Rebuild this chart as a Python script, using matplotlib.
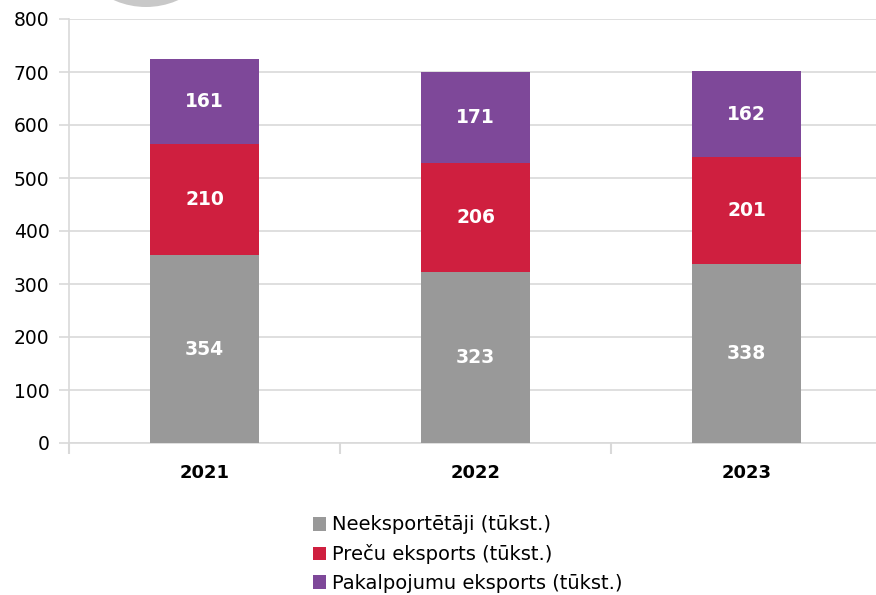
import matplotlib
matplotlib.use("Agg")
import matplotlib.pyplot as plt
from matplotlib.patches import Ellipse
import numpy as np

years = ["2021", "2022", "2023"]
non_exporters = [354, 323, 338]
goods_export = [210, 206, 201]
services_export = [161, 171, 162]
series_names = ["Neeksportētāji (tūkst.)", "Preču eksports (tūkst.)", "Pakalpojumu eksports (tūkst.)"]
colors = ["#999999", "#CF1F3F", "#7E4899"]

W, H = 876, 595
plt.rcParams['font.family'] = ['DejaVu Sans']
fig = plt.figure(figsize=(W / 100, H / 100), dpi=100)

# decorative circle partly visible at top
circ = Ellipse((146 / W, 1 + 72 / H), 2 * 79 / W, 2 * 79 / H, transform=fig.transFigure,
               facecolor="#C8C8C8", edgecolor="none")
fig.patches.append(circ)

ax = fig.add_axes([69 / W, 1 - 443 / H, (882 - 69) / W, (443 - 19) / H])
x = np.arange(len(years))
bottom = np.zeros(len(years))
for vals, name, c in zip([non_exporters, goods_export, services_export], series_names, colors):
    ax.bar(x, vals, width=0.4, bottom=bottom, color=c, label=name, zorder=3)
    for xi, b, v in zip(x, bottom, vals):
        ax.text(xi, b + v / 2, str(v), ha="center", va="center", color="white",
                fontsize=13.5, fontweight="bold", zorder=4)
    bottom += np.array(vals)

ax.set_xlim(-0.5, 2.5)
ax.set_ylim(0, 800)
ax.set_yticks(range(0, 801, 100))
ax.set_xticks(x)
ax.set_xticklabels(years, fontsize=13, fontweight="bold")
ax.set_xticks([-0.5, 0.5, 1.5, 2.5], minor=True)
ax.tick_params(axis="x", which="major", length=0, pad=15)
ax.tick_params(axis="x", which="minor", length=8, color="#D9D9D9", width=1.5)
ax.tick_params(axis="y", length=7, color="#D9D9D9", width=1.2, labelsize=13.5, pad=7)
ax.grid(axis="y", color="#D9D9D9", linewidth=1.2, zorder=0)
for s in ["top", "right"]:
    ax.spines[s].set_visible(False)
for s in ["left", "bottom"]:
    ax.spines[s].set_color("#D9D9D9")
    ax.spines[s].set_linewidth(1.2)

handles, labels = ax.get_legend_handles_labels()
fig.legend(handles, labels, loc="upper left", bbox_to_anchor=(295 / W, 1 - 498 / H),
           frameon=False, fontsize=14, handlelength=0.7, handleheight=0.7,
           handletextpad=0.3, labelspacing=0.5)

fig.savefig("out.png", dpi=100)
